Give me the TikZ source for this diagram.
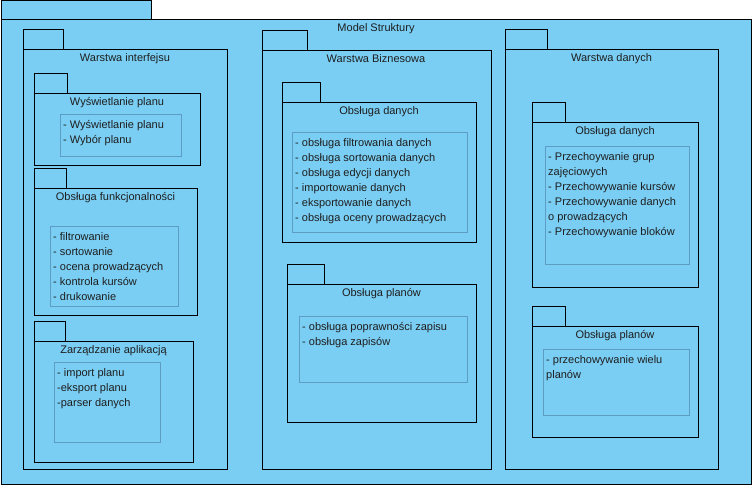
\documentclass[tikz,border=0pt]{standalone}
\usepackage{fontspec}
\setmainfont{Liberation Sans}
\usepackage{xcolor}
\definecolor{pkgfill}{HTML}{7ACEF4}
\definecolor{boxline}{HTML}{5E9DC2}
\definecolor{txt}{HTML}{1E1E1E}

\begin{document}
\begin{tikzpicture}[x=1pt, y=-1pt,
    pkg/.style={draw=black, fill=pkgfill, line width=1pt},
    inbox/.style={draw=boxline, line width=0.9pt},
    title/.style={anchor=base, inner sep=0pt, text=txt, font=\fontsize{11}{15}\selectfont},
    items/.style={anchor=north west, inner sep=0pt, align=left, text=txt, font=\fontsize{11}{15}\selectfont}]

          \useasboundingbox (0,0) rectangle (752,485);

          % Model Struktury
          \draw[pkg] (1,0.5) rectangle (151,19);
          \draw[pkg] (1,19) rectangle (751,484);
          \node[title] (Model) at (376,31) {Model Struktury};

          % Warstwa interfejsu
          \draw[pkg] (23,29) rectangle (63,49);
          \draw[pkg] (23,49) rectangle (227,469);
          \node[title] (Interfejs) at (125,61) {Warstwa interfejsu};

          \draw[pkg] (34,73) rectangle (67,93);
          \draw[pkg] (34,93) rectangle (200,165);
          \node[title] (Wyswietlanie) at (117,105) {Wyświetlanie planu};
          \draw[inbox] (60,114) rectangle (181,156);
          \node[items] (ListWyswietlanie) at (63,117.5) {\strut- Wyświetlanie planu\\- Wybór planu};

          \draw[pkg] (34,168) rectangle (66,188);
          \draw[pkg] (34,188) rectangle (197,315);
          \node[title] (Funkcje) at (115.5,200) {Obsługa funkcjonalności};
          \draw[inbox] (50,226) rectangle (178,306);
          \node[items] (ListFunkcje) at (53,229.5) {\strut- filtrowanie\\- sortowanie\\- ocena prowadzących\\- kontrola kursów\\- drukowanie};

          \draw[pkg] (34,321) rectangle (65,341);
          \draw[pkg] (34,341) rectangle (193,462);
          \node[title] (Zarzadzanie) at (113.5,353) {Zarządzanie aplikacją};
          \draw[inbox] (54,362) rectangle (160,442);
          \node[items] (ListZarzadzanie) at (57,365.5) {\strut- import planu\\-eksport planu\\-parser danych};

          % Warstwa Biznesowa
          \draw[pkg] (262,30) rectangle (307,50);
          \draw[pkg] (262,50) rectangle (491,469);
          \node[title] (Biznes) at (376,62) {Warstwa Biznesowa};

          \draw[pkg] (282,82) rectangle (320,102);
          \draw[pkg] (282,102) rectangle (476,242);
          \node[title] (BizDane) at (379,114) {Obsługa danych};
          \draw[inbox] (292,132) rectangle (467,232);
          \node[items] (ListBizDane) at (295,135.5) {\strut- obsługa filtrowania danych\\- obsługa sortowania danych\\- obsługa edycji danych\\- importowanie danych\\- eksportowanie danych\\- obsługa oceny prowadzących};

          \draw[pkg] (287,264) rectangle (324,284);
          \draw[pkg] (287,284) rectangle (476,422);
          \node[title] (BizPlany) at (381.5,296) {Obsługa planów};
          \draw[inbox] (299,316) rectangle (467,382);
          \node[items] (ListBizPlany) at (302,319.5) {\strut- obsługa poprawności zapisu\\- obsługa zapisów};

          % Warstwa danych
          \draw[pkg] (505,29) rectangle (547,49);
          \draw[pkg] (505,49) rectangle (718,469);
          \node[title] (Dane) at (611.5,61) {Warstwa danych};

          \draw[pkg] (532,102) rectangle (565,122);
          \draw[pkg] (532,122) rectangle (698,287);
          \node[title] (DaneDane) at (615,134) {Obsługa danych};
          \draw[inbox] (545,146) rectangle (689,264);
          \node[items] (ListDaneDane) at (548,149.5) {\strut- Przechoywanie grup\\zajęciowych\\- Przechowywanie kursów\\- Przechowywanie danych\\o prowadzących\\- Przechowywanie bloków};

          \draw[pkg] (532,306) rectangle (565,326);
          \draw[pkg] (532,326) rectangle (698,437);
          \node[title] (DanePlany) at (615,338) {Obsługa planów};
          \draw[inbox] (543,349) rectangle (689,415);
          \node[items] (ListDanePlany) at (546,352.5) {\strut- przechowywanie wielu\\planów};

        \end{tikzpicture}
\end{document}
